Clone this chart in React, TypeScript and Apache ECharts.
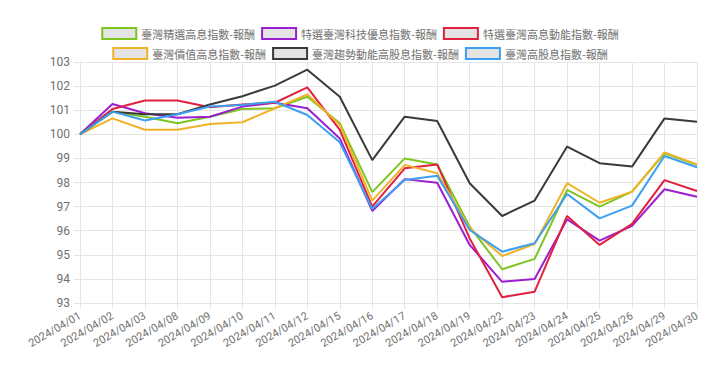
import React, { useEffect, useRef } from "react";
import * as echarts from "echarts";

const dates = [
  "2024/04/01", "2024/04/02", "2024/04/03", "2024/04/08", "2024/04/09",
  "2024/04/10", "2024/04/11", "2024/04/12", "2024/04/15", "2024/04/16",
  "2024/04/17", "2024/04/18", "2024/04/19", "2024/04/22", "2024/04/23",
  "2024/04/24", "2024/04/25", "2024/04/26", "2024/04/29", "2024/04/30",
];

const seriesNames = [
  "臺灣精選高息指數-報酬",
  "特選臺灣科技優息指數-報酬",
  "特選臺灣高息動能指數-報酬",
  "臺灣價值高息指數-報酬",
  "臺灣趨勢動能高股息指數-報酬",
  "臺灣高股息指數-報酬",
];

const seriesColors = ["#7dc520", "#9b1fd0", "#e0213f", "#f0b328", "#3a3a3a", "#3d9ff0"];

const greenValues = [100, 100.94, 100.73, 100.46, 100.73, 101.05, 101.08, 101.56, 100.46, 97.6, 99.0, 98.75, 96.17, 94.4, 94.83, 97.69, 97.0, 97.62, 99.21, 98.73];
const purpleValues = [100, 101.26, 100.87, 100.69, 100.73, 101.15, 101.31, 101.08, 99.83, 96.82, 98.14, 97.99, 95.41, 93.88, 94.0, 96.47, 95.59, 96.2, 97.72, 97.41];
const redValues = [100, 101.05, 101.4, 101.4, 101.12, 101.24, 101.31, 101.95, 100.18, 97.0, 98.59, 98.75, 95.68, 93.24, 93.47, 96.61, 95.41, 96.28, 98.1, 97.65];
const yellowValues = [100, 100.66, 100.19, 100.19, 100.43, 100.5, 101.08, 101.66, 100.39, 97.25, 98.73, 98.38, 96.1, 94.95, 95.45, 97.97, 97.16, 97.62, 99.25, 98.75];
const blackValues = [100, 100.94, 100.83, 100.83, 101.24, 101.58, 102.02, 102.68, 101.56, 98.93, 100.73, 100.55, 97.97, 96.61, 97.25, 99.49, 98.8, 98.66, 100.66, 100.52];
const blueValues = [100, 100.94, 100.57, 100.83, 101.15, 101.22, 101.35, 100.8, 99.67, 96.9, 98.1, 98.28, 96.03, 95.13, 95.48, 97.52, 96.51, 97.04, 99.1, 98.63];

const allValues = [greenValues, purpleValues, redValues, yellowValues, blackValues, blueValues];

const yMin = 93;
const yMax = 103;
const yInterval = 1;

export default function App() {
  const ref = useRef<HTMLDivElement>(null);
  useEffect(() => {
    if (!ref.current) return;
    const chart = echarts.init(ref.current, undefined, { renderer: "svg" });
    const gridColor = "#e5e5e5";
    const labelColor = "#707070";
    const fontFamily = "'Noto Sans CJK TC', 'Noto Sans', sans-serif";
    const legendItem = (i: number) => ({
      name: seriesNames[i],
      itemStyle: { color: "#e4e4e4", borderColor: seriesColors[i], borderWidth: 2 },
    });
    const legendCommon = {
      left: "center",
      icon: "rect",
      itemWidth: 34,
      itemHeight: 11,
      itemGap: 6,
      textStyle: { color: labelColor, fontSize: 11, fontFamily },
    };
    chart.setOption({
      animation: false,
      legend: [
        { ...legendCommon, top: 22, data: [0, 1, 2].map(legendItem) },
        { ...legendCommon, top: 42, data: [3, 4, 5].map(legendItem) },
      ],
      grid: { left: 80, right: 23, top: 62, bottom: 73, containLabel: false },
      xAxis: {
        type: "category",
        data: dates,
        boundaryGap: false,
        axisLine: { show: true, lineStyle: { color: gridColor } },
        axisTick: { show: true, length: 6, lineStyle: { color: gridColor } },
        splitLine: { show: true, lineStyle: { color: gridColor } },
        axisLabel: {
          rotate: 30,
          interval: 0,
          color: labelColor,
          fontSize: 11,
          fontFamily: "Roboto, sans-serif",
          margin: 12,
        },
      },
      yAxis: {
        type: "value",
        min: yMin,
        max: yMax,
        interval: yInterval,
        axisLine: { show: true, lineStyle: { color: gridColor } },
        axisTick: { show: true, length: 6, lineStyle: { color: gridColor } },
        splitLine: { show: true, lineStyle: { color: gridColor } },
        axisLabel: { color: labelColor, fontSize: 12, fontFamily: "Roboto, sans-serif", margin: 10 },
      },
      series: allValues.map((vals, i) => ({
        name: seriesNames[i],
        type: "line",
        data: vals,
        showSymbol: false,
        symbol: "none",
        lineStyle: { color: seriesColors[i], width: 2 },
        itemStyle: { color: seriesColors[i] },
      })),
    });
    return () => chart.dispose();
  }, []);
  return (
    <div
      ref={ref}
      style={{ position: "fixed", left: 0, top: 0, width: 720, height: 376, background: "#fff" }}
    />
  );
}
